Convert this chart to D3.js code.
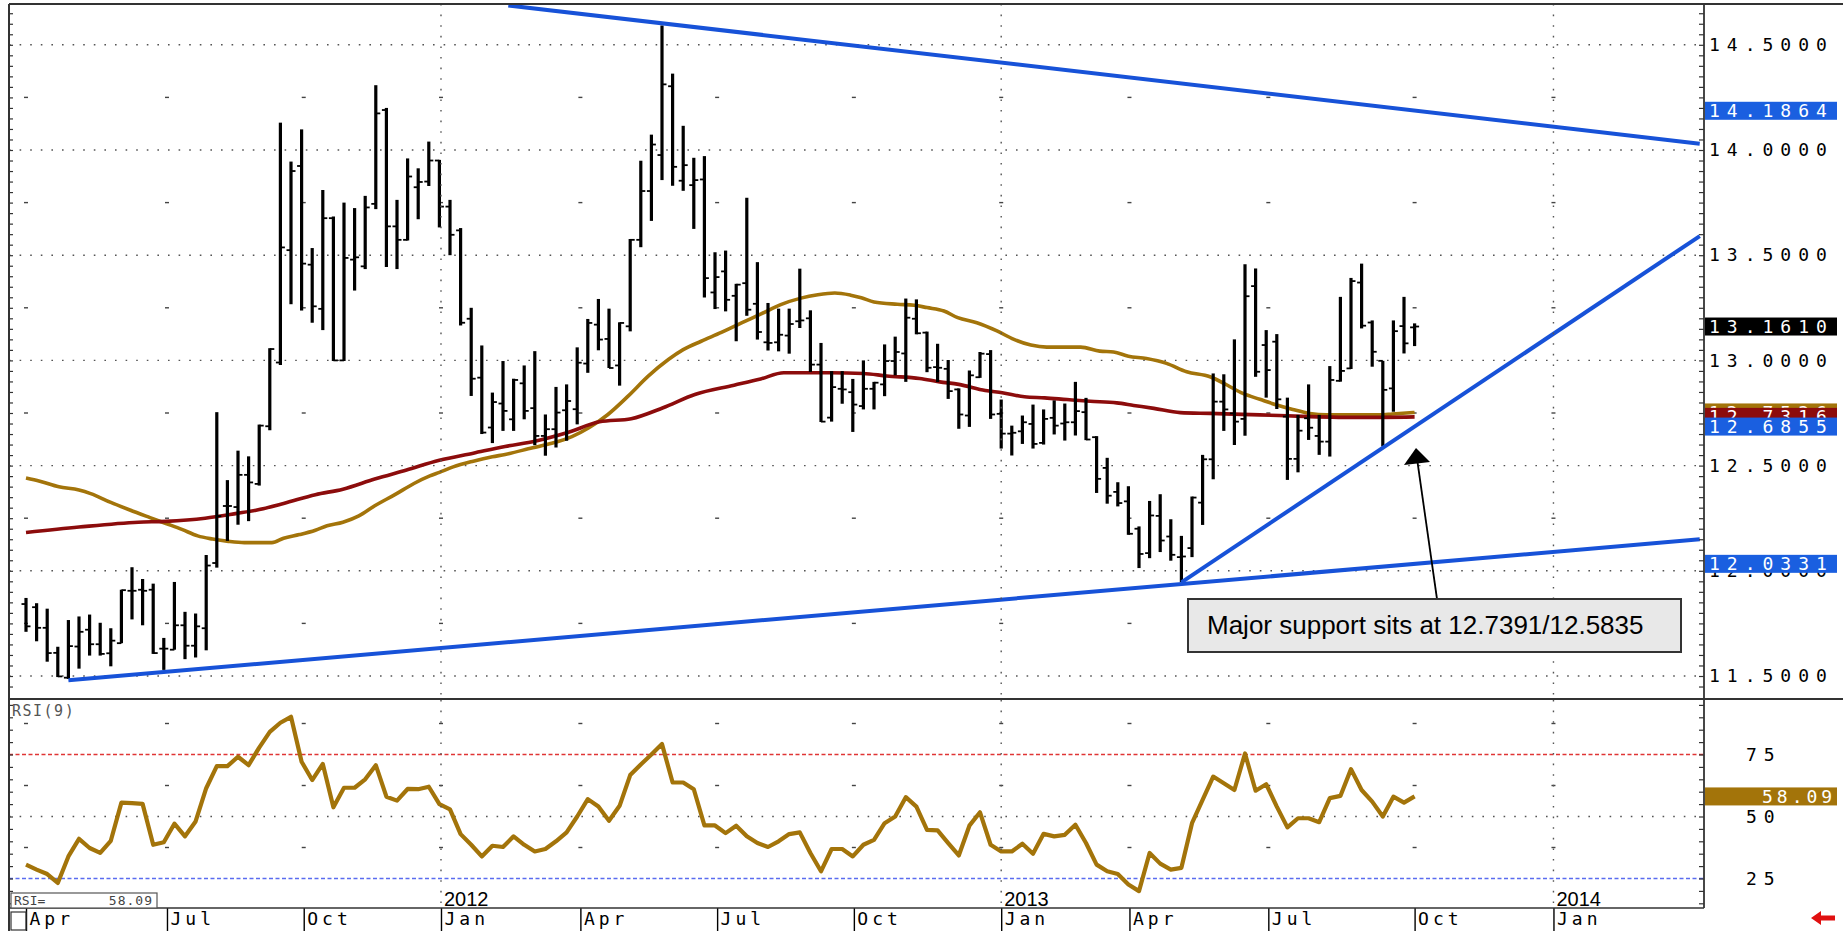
<!DOCTYPE html>
<html><head><meta charset="utf-8">
<script src="https://cdn.jsdelivr.net/npm/d3@7"></script>
<style>
body{margin:0;background:#fff;}
svg{display:block;font-family:"DejaVu Sans Mono",monospace;}
</style></head><body>
<svg id="c" width="1845" height="931"></svg>
<script>
// ---------------- DATA (weekly bars, index 0 = first week of Apr 2011) ----------------
const opens = [11.842,11.827,11.729,11.610,11.492,11.640,11.720,11.651,11.608,11.656,
11.905,11.910,11.910,11.630,11.625,11.741,11.644,11.727,12.037,12.308,
12.303,12.456,12.413,12.687,12.990,13.524,13.924,13.455,13.245,13.676,
13.000,13.479,13.447,13.744,14.190,13.637,13.573,13.823,13.850,13.950,
13.731,13.618,13.198,12.918,12.681,12.795,12.720,12.891,12.773,12.641,
12.673,12.763,12.768,12.985,13.170,13.102,12.976,13.162,13.573,13.805,
13.976,14.303,13.854,13.833,13.860,13.323,13.423,13.307,13.367,13.269,
13.086,13.086,13.118,13.186,13.200,12.980,12.728,12.865,12.849,12.783,
12.865,12.886,12.997,13.033,13.198,13.132,12.968,12.960,12.862,12.738,
12.920,13.030,12.746,12.652,12.663,12.698,12.608,12.727,12.700,12.706,
12.754,12.635,12.489,12.375,12.330,12.200,12.084,12.261,12.163,12.065,
12.108,12.324,12.530,12.804,12.748,12.722,13.353,13.073,13.089,12.733,
12.532,12.725,12.641,12.614,12.903,12.962,13.370,13.180,12.998,12.867,
13.163,13.157];
const highs = [11.871,11.846,11.820,11.639,11.766,11.783,11.792,11.753,11.727,11.910,
12.017,11.961,11.939,11.681,11.947,11.805,11.797,12.075,12.754,12.431,
12.571,12.544,12.695,13.058,14.130,13.945,14.098,13.534,13.810,13.684,
13.750,13.724,13.782,14.308,14.200,13.763,13.960,13.913,14.040,13.953,
13.763,13.629,13.250,13.071,12.847,12.997,12.913,12.976,13.044,12.743,
12.874,12.886,13.062,13.197,13.292,13.246,13.181,13.577,13.949,14.073,
14.592,14.363,14.115,13.963,13.971,13.514,13.522,13.364,13.773,13.467,
13.273,13.246,13.246,13.436,13.238,13.083,12.949,12.949,12.912,13.000,
12.898,13.076,13.113,13.294,13.290,13.137,13.079,13.002,12.867,12.952,
13.040,13.049,12.814,12.690,12.738,12.790,12.767,12.810,12.795,12.898,
12.822,12.640,12.537,12.421,12.402,12.211,12.332,12.364,12.245,12.166,
12.353,12.551,12.938,12.934,13.100,13.457,13.437,13.144,13.125,12.823,
12.741,12.886,12.741,12.973,13.302,13.392,13.460,13.190,12.998,13.190,
13.302,13.176];
const lows = [11.710,11.665,11.568,11.495,11.486,11.535,11.597,11.597,11.546,11.656,
11.769,11.741,11.605,11.529,11.625,11.580,11.588,11.622,12.015,12.142,
12.219,12.236,12.405,12.668,12.978,13.267,13.237,13.179,13.144,12.997,
12.997,13.332,13.434,13.719,13.444,13.434,13.570,13.671,13.829,13.632,
13.500,13.166,12.831,12.650,12.607,12.665,12.665,12.720,12.597,12.547,
12.586,12.618,12.696,12.941,13.048,12.964,12.880,13.138,13.538,13.663,
13.857,13.830,13.806,13.625,13.299,13.244,13.233,13.091,13.212,13.099,
13.047,13.043,13.032,13.154,12.945,12.707,12.709,12.794,12.660,12.767,
12.767,12.830,12.929,12.898,13.124,12.944,12.897,12.817,12.675,12.684,
12.917,12.722,12.581,12.548,12.603,12.581,12.600,12.648,12.619,12.643,
12.621,12.370,12.319,12.306,12.171,12.013,12.060,12.089,12.048,11.945,
12.065,12.218,12.435,12.665,12.598,12.642,12.922,12.823,12.769,12.432,
12.468,12.622,12.551,12.543,12.899,12.959,13.152,12.970,12.591,12.756,
13.033,13.068];
const closes = [11.736,11.729,11.609,11.498,11.642,11.710,11.651,11.605,11.668,11.908,
11.905,11.905,11.609,11.630,11.741,11.644,11.736,12.025,12.260,12.308,
12.456,12.420,12.690,13.054,13.537,13.900,13.460,13.257,13.676,13.000,
13.487,13.490,13.727,14.174,13.637,13.573,13.874,13.848,13.950,13.731,
13.597,13.179,12.913,12.657,12.802,12.760,12.907,12.760,12.641,12.673,
12.752,12.807,12.989,13.178,13.099,12.964,13.178,13.573,13.805,14.026,
14.312,13.920,13.928,13.857,13.391,13.396,13.288,13.360,13.241,13.135,
13.083,13.122,13.173,13.190,12.980,12.709,12.873,12.862,12.790,12.865,
12.894,12.997,13.040,13.203,13.129,12.965,12.965,12.854,12.743,12.929,
13.032,12.743,12.652,12.656,12.706,12.603,12.722,12.690,12.706,12.759,
12.624,12.437,12.357,12.322,12.176,12.080,12.263,12.144,12.076,12.068,
12.348,12.530,12.804,12.767,12.709,13.305,12.946,12.954,12.815,12.532,
12.666,12.680,12.614,12.907,12.950,13.377,13.165,13.041,12.860,13.139,
13.081,13.161];
const rsi = [30.6,28.6,26.8,23.2,33.9,41.0,37.3,35.3,40.2,55.6,
55.4,55.1,38.6,39.6,47.1,42.0,48.0,61.4,70.3,70.3,
74.1,70.7,77.8,84.1,87.8,90.2,72.1,64.7,71.2,53.7,
61.6,61.6,65.0,70.7,58.0,56.4,61.1,61.0,62.0,55.0,
52.9,42.9,38.6,33.9,38.2,37.7,42.0,38.6,35.9,36.9,
40.0,43.6,50.0,57.0,54.0,48.3,54.3,66.7,71.0,75.0,
79.2,63.7,63.7,61.0,46.4,46.4,43.3,46.3,42.0,39.3,
37.7,40.0,42.9,43.6,35.3,27.9,36.9,36.9,33.9,38.6,
40.6,47.3,50.0,57.8,54.0,44.6,44.4,39.3,34.3,46.3,
51.7,38.6,35.9,35.9,39.0,35.0,43.0,42.0,42.6,46.7,
39.3,30.6,27.9,26.8,22.6,19.9,35.3,31.0,28.6,29.3,
47.3,56.7,66.1,63.4,60.7,75.4,60.4,63.0,54.0,45.6,
49.3,49.3,47.7,57.4,58.3,69.1,60.7,56.0,50.0,58.0,
55.6,58.09];
// moving averages: [week index, value]
const goldMA = [[0,12.441],[1.3,12.426],[3.1,12.399],[5,12.384],[6.1,12.367],[8,12.325],[9.8,12.289],
[11.7,12.253],[13.2,12.225],[14.7,12.197],[16.2,12.166],[17.6,12.151],[19.1,12.14],[20.6,12.134],
[23.2,12.134],[24.3,12.155],[25.8,12.172],[27.3,12.193],[28.4,12.214],[29.9,12.231],[31.4,12.261],
[32.9,12.309],[34.8,12.362],[36.6,12.415],[38.1,12.451],[39,12.468],[40.3,12.494],[42.2,12.521],
[44,12.542],[45.2,12.553],[47.8,12.585],[49.6,12.606],[51.5,12.638],[53.1,12.68],[54.9,12.743],
[56.8,12.83],[58.7,12.925],[60.6,13.004],[62,13.051],[63.7,13.091],[65.6,13.133],[67.5,13.178],
[69.4,13.222],[71.2,13.265],[73.1,13.296],[74.7,13.312],[76.3,13.32],[77.8,13.31],[78.8,13.298],
[80,13.278],[82.2,13.267],[83.8,13.262],[85,13.251],[86.6,13.235],[87.9,13.203],[89.7,13.179],
[91.6,13.14],[93.2,13.1],[94.8,13.073],[96.3,13.063],[99.5,13.063],[101.3,13.044],[102.6,13.04],
[104,13.02],[105.7,13.009],[107.6,12.986],[109.5,12.946],[111.7,12.922],[113.3,12.883],[114.8,12.843],
[116.4,12.815],[118,12.788],[119.5,12.767],[121.1,12.748],[122.7,12.741],[125.8,12.741],[127.7,12.741],
[128.9,12.745],[131,12.7526]];
const redMA = [[0,12.182],[5,12.208],[10.6,12.231],[13.2,12.235],[16.9,12.25],[19.9,12.273],[21.7,12.288],
[24.3,12.32],[27.3,12.362],[29.9,12.388],[32.9,12.436],[35.9,12.479],[39,12.525],[42.2,12.559],
[45.2,12.591],[48.1,12.617],[51.1,12.657],[54.1,12.708],[57.1,12.723],[60.1,12.775],[63.1,12.838],
[66.8,12.882],[69.3,12.912],[71.5,12.941],[75.9,12.941],[79,12.938],[81.2,12.926],[84.3,12.914],
[86.2,12.898],[88,12.886],[90.5,12.857],[92.1,12.846],[94.2,12.827],[96.1,12.822],[98.2,12.814],
[100.4,12.806],[102.9,12.798],[104.5,12.786],[106.4,12.772],[108.9,12.752],[111.7,12.748],
[116.4,12.741],[121.1,12.733],[125.8,12.729],[131,12.7316]];
// trend lines: [week index, price]
const trendUpper = [[45.5,14.687],[157.9,14.03]];
const trendLower = [[4,11.48],[157.9,12.15]];
const trendRise  = [[109,11.945],[157.9,13.591]];
// axis ticks (week index of each quarter start)
const monthTicks  = [0,13.3,26.2,39.15,52.3,65.2,78.1,92.0,104.1,117.2,131.0,144.1];
const monthLabels = ["Apr","Jul","Oct","Jan","Apr","Jul","Oct","Jan","Apr","Jul","Oct","Jan"];
const yearTicks  = [39.15,92.0,144.1];
const yearLabels = ["2012","2013","2014"];
const priceTicks = [11.5,12.0,12.5,13.0,13.5,14.0,14.5];
const rsiTicks = [25,50,75];
const lastUpper = 14.1864, lastClose = 13.1610, lastGold = 12.7526, lastRed = 12.7316,
      lastRise = 12.6855, lastLower = 12.0331, lastRsi = 58.09;
const noteText = "Major support sits at 12.7391/12.5835";

// ---------------- LAYOUT ----------------
const svg = d3.select("#c");
const L = 9, R = 1704, T = 4, PB = 698, RT = 700, RB = 908, W = 1845, H = 931;
const x = d3.scaleLinear().domain([0,131]).range([26, 26 + 131*10.6]);
const y = d3.scaleLinear().domain([11.5,14.5]).range([676,44.8]);
const yr = d3.scaleLinear().domain([25,75]).range([878.5,754.5]);
const GOLD = "#a3740a", RED = "#8c0c0c", BLUE = "#1752d8", LBLUE = "#1a5fe0";
const MONO = "'DejaVu Sans Mono', monospace", SANS = "'Liberation Sans', Arial, sans-serif";

const defs = svg.append("defs");
defs.append("clipPath").attr("id","cp").append("rect").attr("x",L).attr("y",T).attr("width",R-L).attr("height",PB-T);
defs.append("clipPath").attr("id","cr").append("rect").attr("x",L).attr("y",RT).attr("width",R-L).attr("height",RB-RT);

const gp = svg.append("g").attr("clip-path","url(#cp)");
const gr = svg.append("g").attr("clip-path","url(#cr)");

// ---- price grid
priceTicks.forEach(v=>{
  gp.append("line").attr("x1",L).attr("x2",R).attr("y1",y(v)).attr("y2",y(v))
    .attr("stroke","#555").attr("stroke-width",1.4).attr("stroke-dasharray","1.6,9");
});
d3.range(11.25,14.8,0.5).forEach(v=>{
  monthTicks.forEach(t=>{
    gp.append("line").attr("x1",x(t)-2).attr("x2",x(t)+2).attr("y1",y(v)).attr("y2",y(v))
      .attr("stroke","#444").attr("stroke-width",1.4);
  });
});
yearTicks.forEach(t=>{
  [[T,PB],[RT,RB]].forEach(([a,b])=>{
    svg.append("line").attr("x1",x(t)).attr("x2",x(t)).attr("y1",a).attr("y2",b)
      .attr("stroke","#555").attr("stroke-width",1.4).attr("stroke-dasharray","1.6,9");
  });
});

// ---- moving averages
const maLine = d3.line().x(d=>x(d[0])).y(d=>y(d[1])).curve(d3.curveMonotoneX);
gp.append("path").attr("d",maLine(goldMA)).attr("fill","none").attr("stroke",GOLD).attr("stroke-width",3.6);
gp.append("path").attr("d",maLine(redMA)).attr("fill","none").attr("stroke",RED).attr("stroke-width",3.6);

// ---- OHLC bars
const bars = gp.append("g");
closes.forEach((c,i)=>{
  const cx = x(i);
  bars.append("line").attr("x1",cx).attr("x2",cx).attr("y1",y(highs[i])).attr("y2",y(lows[i]))
    .attr("stroke","#000").attr("stroke-width",3.2);
  bars.append("line").attr("x1",cx-4.5).attr("x2",cx).attr("y1",y(opens[i])).attr("y2",y(opens[i]))
    .attr("stroke","#000").attr("stroke-width",1.8);
  bars.append("line").attr("x1",cx).attr("x2",cx+4.5).attr("y1",y(c)).attr("y2",y(c))
    .attr("stroke","#000").attr("stroke-width",1.8);
});

// ---- trend lines
const tl = d3.line().x(d=>x(d[0])).y(d=>y(d[1]));
[trendUpper,trendLower,trendRise].forEach(tr=>{
  gp.append("path").attr("d",tl(tr)).attr("fill","none").attr("stroke",BLUE).attr("stroke-width",4);
});

// ---- RSI grid
gr.append("line").attr("x1",L).attr("x2",R).attr("y1",yr(50)).attr("y2",yr(50))
  .attr("stroke","#555").attr("stroke-width",1.3).attr("stroke-dasharray","1.6,9");
gr.append("line").attr("x1",L).attr("x2",R).attr("y1",yr(75)).attr("y2",yr(75))
  .attr("stroke","#e03535").attr("stroke-width",1.3).attr("stroke-dasharray","4,2.5");
gr.append("line").attr("x1",L).attr("x2",R).attr("y1",yr(25)).attr("y2",yr(25))
  .attr("stroke","#5a6cf0").attr("stroke-width",1.6).attr("stroke-dasharray","4,2.5");
[87.5,62.5,37.5].forEach(v=>{
  monthTicks.forEach(t=>{
    gr.append("line").attr("x1",x(t)-2).attr("x2",x(t)+2).attr("y1",yr(v)).attr("y2",yr(v))
      .attr("stroke","#444").attr("stroke-width",1.4);
  });
});
// RSI line
gr.append("path").attr("d",d3.line().x((d,i)=>x(i)).y(d=>yr(d))(rsi))
  .attr("fill","none").attr("stroke",GOLD).attr("stroke-width",4.2).attr("stroke-linejoin","round");

// ---------------- AXES ----------------
function clean(g){ g.select(".domain").remove(); }
const minorP = d3.range(0,66).map(k=>+(11.4+k*0.05).toFixed(2)).filter(v=>y(v)>T+1 && y(v)<PB-1);
svg.append("g").attr("transform",`translate(${L},0)`)
  .call(d3.axisRight(y).tickValues(minorP).tickSize(4).tickFormat(""))
  .call(clean).selectAll("line").attr("stroke","#333").attr("stroke-width",1.2);
svg.append("g").attr("transform",`translate(${R},0)`)
  .call(d3.axisLeft(y).tickValues(minorP).tickSize(5).tickFormat(""))
  .call(clean).selectAll("line").attr("stroke","#333").attr("stroke-width",1.2);
const minorR = d3.range(15,100,5).filter(v=>yr(v)>RT+1 && yr(v)<RB-1);
svg.append("g").attr("transform",`translate(${L},0)`)
  .call(d3.axisRight(yr).tickValues(minorR).tickSize(4).tickFormat(""))
  .call(clean).selectAll("line").attr("stroke","#333").attr("stroke-width",1.2);
svg.append("g").attr("transform",`translate(${R},0)`)
  .call(d3.axisLeft(yr).tickValues(minorR).tickSize(5).tickFormat(""))
  .call(clean).selectAll("line").attr("stroke","#333").attr("stroke-width",1.2);

// price labels
const pa = svg.append("g").attr("transform",`translate(${R},0)`)
  .call(d3.axisRight(y).tickValues(priceTicks).tickSize(0).tickPadding(5).tickFormat(d3.format(".4f")));
clean(pa);
pa.selectAll("text").style("font-family",MONO).style("font-size","18px")
  .style("letter-spacing","7px").attr("fill","#000");
// rsi labels
const ra = svg.append("g").attr("transform",`translate(${R},0)`)
  .call(d3.axisRight(yr).tickValues(rsiTicks).tickSize(0).tickPadding(42).tickFormat(d3.format("d")));
clean(ra);
ra.selectAll("text").style("font-family",MONO).style("font-size","18px")
  .style("letter-spacing","7px").attr("fill","#000");

// date axis
const da = svg.append("g").attr("transform",`translate(0,${RB})`)
  .call(d3.axisBottom(x).tickValues(monthTicks).tickSize(23).tickFormat((d,i)=>monthLabels[i]));
clean(da);
da.selectAll("line").attr("stroke","#000").attr("stroke-width",1.4);
da.selectAll("text").attr("x",3).attr("y",3).attr("dy","0.76em").attr("text-anchor","start")
  .style("font-family",MONO).style("font-size","18px").style("letter-spacing","4px").attr("fill","#000");
yearTicks.forEach((t,i)=>{
  svg.append("text").attr("x",x(t)+3).attr("y",RB-2).text(yearLabels[i])
    .style("font-family",SANS).style("font-size","20px").attr("fill","#000");
});

// ---------------- FRAME ----------------
const frame = svg.append("g").attr("stroke","#333");
frame.append("line").attr("x1",L).attr("x2",L).attr("y1",T).attr("y2",H).attr("stroke-width",2);
frame.append("line").attr("x1",L).attr("x2",W-2).attr("y1",T).attr("y2",T).attr("stroke-width",2);
frame.append("line").attr("x1",L).attr("x2",W-2).attr("y1",699).attr("y2",699).attr("stroke-width",2.2);
frame.append("line").attr("x1",L).attr("x2",R).attr("y1",RB).attr("y2",RB).attr("stroke-width",1.5);
frame.append("line").attr("x1",R).attr("x2",R).attr("y1",T).attr("y2",RB).attr("stroke-width",1.8);
svg.append("rect").attr("x",11).attr("y",912).attr("width",15).attr("height",18)
  .attr("fill","none").attr("stroke","#333").attr("stroke-width",1.2);

// ---------------- VALUE LABELS ----------------
function tag(v, scale, bg, tx, tstart, ls){
  svg.append("rect").attr("x",R+1).attr("y",scale(v)-9).attr("width",132).attr("height",18).attr("fill",bg);
  svg.append("text").attr("x",tstart).attr("y",scale(v)).attr("dy","0.36em").text(tx)
    .style("font-family",MONO).style("font-size","18px").style("letter-spacing",ls+"px").attr("fill","#fff");
}
const f4 = d3.format(".4f");
tag(lastUpper, y, LBLUE, f4(lastUpper), R+5, 7);
tag(lastClose, y, "#000", f4(lastClose), R+5, 7);
tag(lastLower, y, LBLUE, f4(lastLower), R+5, 7);
tag(lastGold, y, GOLD, f4(lastGold), R+5, 7);
tag(lastRed, y, RED, f4(lastRed), R+5, 7);
tag(lastRise, y, LBLUE, f4(lastRise), R+5, 7);
tag(lastRsi, yr, GOLD, d3.format(".2f")(lastRsi), R+58, 4);

// ---------------- RSI captions ----------------
svg.append("text").attr("x",12).attr("y",716).text("RSI(9)")
  .style("font-size","15px").style("letter-spacing","1.5px").attr("fill","#555");
svg.append("rect").attr("x",11).attr("y",893).attr("width",146).attr("height",15)
  .attr("fill","#fff").attr("stroke","#555").attr("stroke-width",1.2);
svg.append("text").attr("x",14).attr("y",905).text("RSI=").style("font-size","13px").attr("fill","#444");
svg.append("text").attr("x",153).attr("y",905).attr("text-anchor","end").text(d3.format(".2f")(lastRsi))
  .style("font-size","13px").style("letter-spacing","1px").attr("fill","#444");

// red arrow bottom right
svg.append("path").attr("d","M1811,918 L1821,911 L1821,915.5 L1835,915.5 L1835,920.5 L1821,920.5 L1821,925 Z")
  .attr("fill","#e01010");

// ---------------- ANNOTATION ----------------
svg.append("line").attr("x1",1437).attr("y1",599).attr("x2",1417.5).attr("y2",462)
  .attr("stroke","#000").attr("stroke-width",1.8);
svg.append("path").attr("d","M1416,448 L1404,465 L1430,462 Z").attr("fill","#000");
svg.append("rect").attr("x",1188).attr("y",599).attr("width",493).attr("height",53)
  .attr("fill","#e8e8e8").attr("stroke","#333").attr("stroke-width",2);
svg.append("text").attr("x",1207).attr("y",634).text(noteText)
  .style("font-family",SANS).style("font-size","26px").attr("fill","#000");
</script>
</body></html>
